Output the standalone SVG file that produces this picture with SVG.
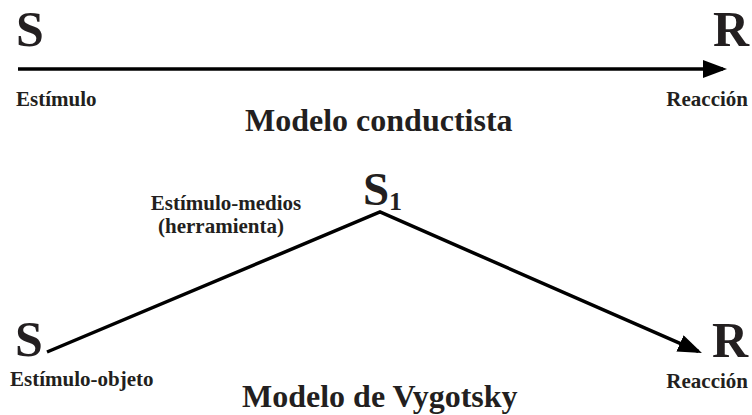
<svg xmlns="http://www.w3.org/2000/svg" width="752" height="415" viewBox="0 0 752 415">
  <style>
    text { font-family: 'Liberation Serif', 'Times New Roman', 'DejaVu Serif', serif; font-weight: 700; fill: #231f20; }
    .big { font-size: 50px; }
    .lbl { font-size: 21px; }
    .title { font-size: 32px; }
    .sub { font-size: 26px; }
    .conn { fill: none; stroke: #000; stroke-width: 3.5; stroke-linejoin: miter; }
  </style>
  <defs>
    <marker id="arrow" markerUnits="userSpaceOnUse" markerWidth="26" markerHeight="20" refX="20" refY="9" orient="auto" viewBox="0 0 26 20">
      <path d="M0,0 L24,9 L0,18 Z" fill="#000"/>
    </marker>
  </defs>

  <g id="connectors">
    <line class="conn" x1="18" y1="69" x2="723" y2="69" marker-end="url(#arrow)"/>
    <polyline class="conn" points="47,352 380,212 698.3,351.4" marker-end="url(#arrow)"/>
  </g>

  <g id="conductista">
    <g id="node-S-top"><text class="big" x="16" y="46">S</text></g>
    <g id="node-R-top"><text class="big" x="713" y="46">R</text></g>
    <g id="label-estimulo"><text class="lbl" x="16" y="106">Estímulo</text></g>
    <g id="label-reaccion-top"><text class="lbl" x="748" y="106" text-anchor="end">Reacción</text></g>
    <g id="title-conductista"><text class="title" x="245" y="131">Modelo conductista</text></g>
  </g>

  <g id="vygotsky">
    <g id="node-S1"><text class="big" x="363" y="205" style="font-size:47px">S</text><text class="sub" x="389" y="210">1</text></g>
    <g id="label-medios">
      <text class="lbl" x="226" y="210" text-anchor="middle">Estímulo-medios</text>
      <text class="lbl" x="221" y="233" text-anchor="middle">(herramienta)</text>
    </g>
    <g id="node-S-bottom"><text class="big" x="15" y="356">S</text></g>
    <g id="node-R-bottom"><text class="big" x="712" y="357">R</text></g>
    <g id="label-objeto"><text class="lbl" x="10" y="386">Estímulo-objeto</text></g>
    <g id="label-reaccion-bottom"><text class="lbl" x="748" y="388" text-anchor="end">Reacción</text></g>
    <g id="title-vygotsky"><text class="title" x="242" y="407">Modelo de Vygotsky</text></g>
  </g>
</svg>
